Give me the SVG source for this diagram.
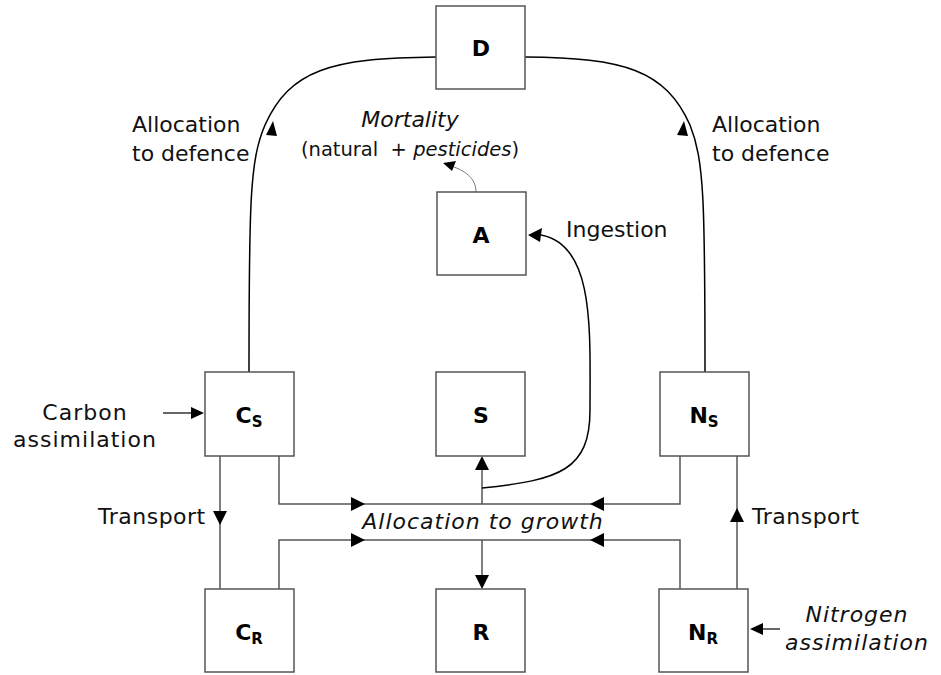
<svg xmlns="http://www.w3.org/2000/svg" width="941" height="675" viewBox="0 0 941 675">
<defs>
<style>
.box{fill:#fff;stroke:#555;stroke-width:1.5}
.lbl{font-family:"DejaVu Sans",sans-serif;font-size:22px;font-weight:bold;text-anchor:middle;fill:#000}
.sub{font-size:15px}
.t{font-family:"DejaVu Sans",sans-serif;font-size:22px;fill:#111}
.it{font-style:italic}
.sp{letter-spacing:1px}
.ln{fill:none;stroke:#000;stroke-width:1.5}
.gl{fill:none;stroke:#555;stroke-width:1.5}
</style>
</defs>
<rect width="941" height="675" fill="#fff"/>
<g id="connectors">
<path class="ln" d="M249,372 C249,200 250,160 265,125 C290,70 330,58 436,57"/>
<path d="M266,135 l7,-14 l4,15 z" fill="#000"/>
<path class="ln" d="M705,372 C705,200 704,160 690,125 C665,70 625,58 525,57"/>
<path d="M688,136 l-4,-15 l-7,14 z" fill="#000"/>
<path d="M476,192 C476,178 465,170 448,165" fill="none" stroke="#777" stroke-width="1"/>
<path d="M443,163 l13,-2 l-4,10 z" fill="#000"/>
<path class="gl" d="M220,456 V589"/>
<path d="M213,511 h14 l-7,14 z" fill="#000"/>
<path class="gl" d="M279,456 V504 H680 V456"/>
<path d="M351,497 l14,7 l-14,7 z" fill="#000"/>
<path d="M604,497 l-14,7 l14,7 z" fill="#000"/>
<path class="gl" d="M279,589 V540 H680 V589"/>
<path d="M351,533 l14,7 l-14,7 z" fill="#000"/>
<path d="M604,533 l-14,7 l14,7 z" fill="#000"/>
<path class="gl" d="M482,504 V458"/>
<path d="M475,470 h14 l-7,-14 z" fill="#000"/>
<path class="gl" d="M482,540 V587"/>
<path d="M475,575 h14 l-7,14 z" fill="#000"/>
<path class="gl" d="M737,589 V456"/>
<path d="M730,522 h14 l-7,-14 z" fill="#000"/>
<path class="ln" d="M482,488 C560,480 590,470 590,410 C590,330 595,245 541,235"/>
<path d="M528,235 l14,-7 l-2,14 z" fill="#000"/>
<path d="M163,413 H193" stroke="#000" stroke-width="1.2"/>
<path d="M204,413 l-13,-6 v12 z" fill="#000"/>
<path d="M780,629 H760" stroke="#000" stroke-width="1.2"/>
<path d="M750,629 l13,-6 v12 z" fill="#000"/>
</g>
<g id="node-D"><rect class="box" x="436" y="6" width="89" height="83"/><text class="lbl" x="481" y="56">D</text></g>
<g id="node-A"><rect class="box" x="437" y="192" width="89" height="83"/><text class="lbl" x="481" y="243">A</text></g>
<g id="node-S"><rect class="box" x="436" y="372" width="89" height="84"/><text class="lbl" x="481" y="423">S</text></g>
<g id="node-CS"><rect class="box" x="205" y="372" width="89" height="84"/><text class="lbl" x="249" y="423">C<tspan class="sub" dy="4">S</tspan></text></g>
<g id="node-NS"><rect class="box" x="660" y="372" width="89" height="84"/><text class="lbl" x="704" y="423">N<tspan class="sub" dy="4">S</tspan></text></g>
<g id="node-CR"><rect class="box" x="205" y="589" width="89" height="83"/><text class="lbl" x="249" y="640">C<tspan class="sub" dy="4">R</tspan></text></g>
<g id="node-R"><rect class="box" x="436" y="589" width="89" height="83"/><text class="lbl" x="481" y="640">R</text></g>
<g id="node-NR"><rect class="box" x="659" y="589" width="89" height="83"/><text class="lbl" x="703" y="640">N<tspan class="sub" dy="4">R</tspan></text></g>
<g id="labels">
<text class="t" x="132" y="132">Allocation</text>
<text class="t" x="132" y="161">to defence</text>
<text class="t" x="712" y="132">Allocation</text>
<text class="t" x="712" y="161">to defence</text>
<text class="t it" x="410" y="127" text-anchor="middle">Mortality</text>
<text class="t" x="410" y="156" text-anchor="middle" style="font-size:19.5px" xml:space="preserve">(natural  + <tspan class="it">pesticides</tspan>)</text>
<text class="t" x="566" y="237">Ingestion</text>
<text class="t sp" x="85" y="420" text-anchor="middle">Carbon</text>
<text class="t sp" x="85" y="447" text-anchor="middle">assimilation</text>
<text class="t" x="98" y="524" letter-spacing="0.5">Transport</text>
<text class="t" x="752" y="524" letter-spacing="0.5">Transport</text>
<text class="t it sp" x="483" y="529" text-anchor="middle">Allocation to growth</text>
<text class="t it sp" x="857" y="622" text-anchor="middle">Nitrogen</text>
<text class="t it sp" x="857" y="650" text-anchor="middle">assimilation</text>
</g>
</svg>
